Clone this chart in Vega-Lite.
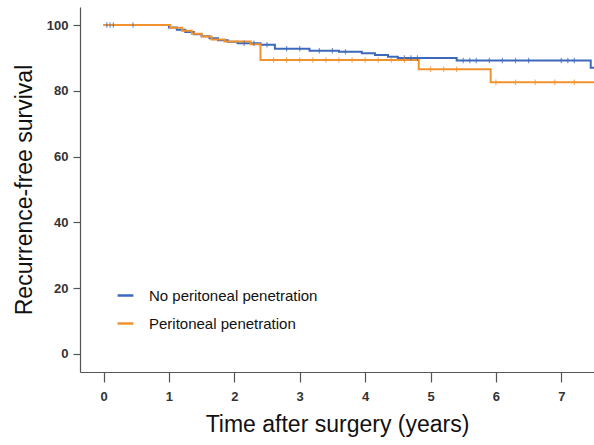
{
  "$schema": "https://vega.github.io/schema/vega-lite/v6.json",
  "width": 514,
  "height": 365,
  "autosize": {"type": "none"},
  "padding": {"left": 80, "top": 7, "right": 0, "bottom": 73},
  "background": "white",
  "config": {
    "view": {"stroke": null},
    "font": "Liberation Sans",
    "axis": {
      "domainColor": "#555", "tickColor": "#555", "labelColor": "#333",
      "labelFont": "Liberation Sans", "labelFontSize": 13, "labelFontWeight": "bold",
      "titleFont": "Liberation Sans", "titleFontSize": 23, "titleFontWeight": "normal", "titleColor": "#111",
      "grid": false, "domainWidth": 1.2, "tickWidth": 1.2
    }
  },
  "data": {"values": [
    {"g": "No peritoneal penetration", "k": "step", "t": 0, "s": 100},
    {"g": "No peritoneal penetration", "k": "step", "t": 1.0, "s": 99.3},
    {"g": "No peritoneal penetration", "k": "step", "t": 1.12, "s": 98.6},
    {"g": "No peritoneal penetration", "k": "step", "t": 1.25, "s": 97.9},
    {"g": "No peritoneal penetration", "k": "step", "t": 1.38, "s": 97.2},
    {"g": "No peritoneal penetration", "k": "step", "t": 1.5, "s": 96.6},
    {"g": "No peritoneal penetration", "k": "step", "t": 1.62, "s": 96.0},
    {"g": "No peritoneal penetration", "k": "step", "t": 1.75, "s": 95.4},
    {"g": "No peritoneal penetration", "k": "step", "t": 1.9, "s": 94.9},
    {"g": "No peritoneal penetration", "k": "step", "t": 2.05, "s": 94.5},
    {"g": "No peritoneal penetration", "k": "step", "t": 2.4, "s": 94.0},
    {"g": "No peritoneal penetration", "k": "step", "t": 2.62, "s": 92.8},
    {"g": "No peritoneal penetration", "k": "step", "t": 3.15, "s": 92.2},
    {"g": "No peritoneal penetration", "k": "step", "t": 3.6, "s": 91.9},
    {"g": "No peritoneal penetration", "k": "step", "t": 3.95, "s": 91.4},
    {"g": "No peritoneal penetration", "k": "step", "t": 4.15, "s": 90.9},
    {"g": "No peritoneal penetration", "k": "step", "t": 4.35, "s": 90.4},
    {"g": "No peritoneal penetration", "k": "step", "t": 4.5, "s": 90.0},
    {"g": "No peritoneal penetration", "k": "step", "t": 5.4, "s": 89.2},
    {"g": "No peritoneal penetration", "k": "step", "t": 7.45, "s": 87.0},
    {"g": "No peritoneal penetration", "k": "step", "t": 7.5, "s": 87.0},
    {"g": "Peritoneal penetration", "k": "step", "t": 0, "s": 100},
    {"g": "Peritoneal penetration", "k": "step", "t": 1.02, "s": 99.2},
    {"g": "Peritoneal penetration", "k": "step", "t": 1.2, "s": 98.3},
    {"g": "Peritoneal penetration", "k": "step", "t": 1.35, "s": 97.4},
    {"g": "Peritoneal penetration", "k": "step", "t": 1.5, "s": 96.5},
    {"g": "Peritoneal penetration", "k": "step", "t": 1.65, "s": 95.6},
    {"g": "Peritoneal penetration", "k": "step", "t": 1.85, "s": 95.0},
    {"g": "Peritoneal penetration", "k": "step", "t": 2.25, "s": 94.2},
    {"g": "Peritoneal penetration", "k": "step", "t": 2.4, "s": 89.4},
    {"g": "Peritoneal penetration", "k": "step", "t": 4.82, "s": 86.6},
    {"g": "Peritoneal penetration", "k": "step", "t": 5.92, "s": 82.6},
    {"g": "Peritoneal penetration", "k": "step", "t": 7.5, "s": 82.6},
    {"g": "No peritoneal penetration", "k": "censor", "t": 0.05, "s": 100},
    {"g": "No peritoneal penetration", "k": "censor", "t": 0.1, "s": 100},
    {"g": "No peritoneal penetration", "k": "censor", "t": 0.15, "s": 100},
    {"g": "No peritoneal penetration", "k": "censor", "t": 0.45, "s": 100},
    {"g": "No peritoneal penetration", "k": "censor", "t": 2.15, "s": 94.5},
    {"g": "No peritoneal penetration", "k": "censor", "t": 2.3, "s": 94.5},
    {"g": "No peritoneal penetration", "k": "censor", "t": 2.5, "s": 94.0},
    {"g": "No peritoneal penetration", "k": "censor", "t": 2.8, "s": 92.8},
    {"g": "No peritoneal penetration", "k": "censor", "t": 3.0, "s": 92.8},
    {"g": "No peritoneal penetration", "k": "censor", "t": 3.3, "s": 92.2},
    {"g": "No peritoneal penetration", "k": "censor", "t": 3.5, "s": 92.2},
    {"g": "No peritoneal penetration", "k": "censor", "t": 3.7, "s": 91.9},
    {"g": "No peritoneal penetration", "k": "censor", "t": 4.6, "s": 90.0},
    {"g": "No peritoneal penetration", "k": "censor", "t": 4.7, "s": 90.0},
    {"g": "No peritoneal penetration", "k": "censor", "t": 4.8, "s": 90.0},
    {"g": "No peritoneal penetration", "k": "censor", "t": 5.5, "s": 89.2},
    {"g": "No peritoneal penetration", "k": "censor", "t": 5.6, "s": 89.2},
    {"g": "No peritoneal penetration", "k": "censor", "t": 5.7, "s": 89.2},
    {"g": "No peritoneal penetration", "k": "censor", "t": 5.9, "s": 89.2},
    {"g": "No peritoneal penetration", "k": "censor", "t": 6.1, "s": 89.2},
    {"g": "No peritoneal penetration", "k": "censor", "t": 6.3, "s": 89.2},
    {"g": "No peritoneal penetration", "k": "censor", "t": 6.5, "s": 89.2},
    {"g": "No peritoneal penetration", "k": "censor", "t": 7.0, "s": 89.2},
    {"g": "No peritoneal penetration", "k": "censor", "t": 7.1, "s": 89.2},
    {"g": "No peritoneal penetration", "k": "censor", "t": 7.2, "s": 89.2},
    {"g": "Peritoneal penetration", "k": "censor", "t": 2.6, "s": 89.4},
    {"g": "Peritoneal penetration", "k": "censor", "t": 2.8, "s": 89.4},
    {"g": "Peritoneal penetration", "k": "censor", "t": 3.0, "s": 89.4},
    {"g": "Peritoneal penetration", "k": "censor", "t": 3.2, "s": 89.4},
    {"g": "Peritoneal penetration", "k": "censor", "t": 3.4, "s": 89.4},
    {"g": "Peritoneal penetration", "k": "censor", "t": 3.6, "s": 89.4},
    {"g": "Peritoneal penetration", "k": "censor", "t": 3.8, "s": 89.4},
    {"g": "Peritoneal penetration", "k": "censor", "t": 4.0, "s": 89.4},
    {"g": "Peritoneal penetration", "k": "censor", "t": 4.2, "s": 89.4},
    {"g": "Peritoneal penetration", "k": "censor", "t": 4.4, "s": 89.4},
    {"g": "Peritoneal penetration", "k": "censor", "t": 4.6, "s": 89.4},
    {"g": "Peritoneal penetration", "k": "censor", "t": 5.0, "s": 86.6},
    {"g": "Peritoneal penetration", "k": "censor", "t": 5.2, "s": 86.6},
    {"g": "Peritoneal penetration", "k": "censor", "t": 5.4, "s": 86.6},
    {"g": "Peritoneal penetration", "k": "censor", "t": 6.0, "s": 82.6},
    {"g": "Peritoneal penetration", "k": "censor", "t": 6.3, "s": 82.6},
    {"g": "Peritoneal penetration", "k": "censor", "t": 6.6, "s": 82.6},
    {"g": "Peritoneal penetration", "k": "censor", "t": 6.9, "s": 82.6},
    {"g": "Peritoneal penetration", "k": "censor", "t": 7.2, "s": 82.6}
  ]},
  "encoding": {
    "x": {
      "field": "t", "type": "quantitative",
      "scale": {"domain": [-0.36, 7.5], "nice": false, "zero": false},
      "axis": {"values": [0, 1, 2, 3, 4, 5, 6, 7], "title": "Time after surgery (years)", "tickSize": 10, "labelPadding": 8, "titlePadding": 10, "format": "d"}
    },
    "y": {
      "field": "s", "type": "quantitative",
      "scale": {"domain": [-5.5, 105.5], "nice": false, "zero": false},
      "axis": {"values": [0, 20, 40, 60, 80, 100], "title": "Recurrence-free survival", "tickSize": 7, "labelPadding": 5, "titlePadding": 10, "format": "d"}
    }
  },
  "layer": [
    {
      "transform": [{"filter": "datum.k === 'step'"}],
      "mark": {"type": "line", "interpolate": "step-after", "strokeWidth": 2},
      "encoding": {
        "order": {"field": "t", "type": "quantitative"},
        "color": {
          "field": "g", "type": "nominal",
          "scale": {"domain": ["No peritoneal penetration", "Peritoneal penetration"], "range": ["#3d69bd", "#f0922e"]},
          "legend": {
            "title": null, "orient": "none", "legendX": 36, "legendY": 279,
            "symbolType": "stroke", "symbolStrokeWidth": 2.5, "symbolSize": 250,
            "labelFont": "Liberation Sans", "labelFontSize": 15, "labelColor": "#111",
            "rowPadding": 10, "labelOffset": 14, "labelLimit": 400
          }
        }
      }
    },
    {
      "transform": [{"filter": "datum.k === 'censor'"}],
      "mark": {"type": "point", "shape": "M0,-1L0,1", "size": 30, "strokeWidth": 1.2, "filled": false},
      "encoding": {
        "stroke": {
          "field": "g", "type": "nominal",
          "scale": {"domain": ["No peritoneal penetration", "Peritoneal penetration"], "range": ["#3d69bd", "#f0922e"]},
          "legend": null
        }
      }
    }
  ]
}
